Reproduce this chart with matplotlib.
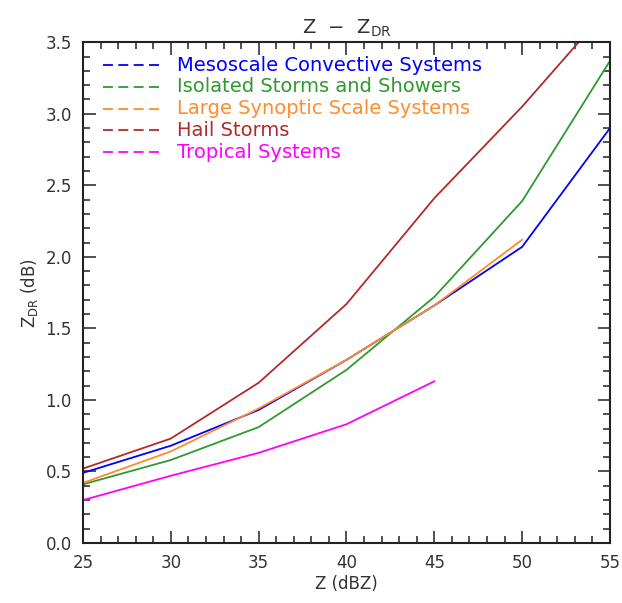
import matplotlib
matplotlib.use("Agg")
import matplotlib.pyplot as plt
from matplotlib.ticker import MultipleLocator
import numpy as np

z_dbz = [25, 30, 35, 40, 45, 50, 55]
mcs = [0.49, 0.68, 0.93, 1.28, 1.66, 2.07, 2.90]
isolated = [0.41, 0.58, 0.81, 1.21, 1.72, 2.39, 3.37]
synoptic_x = [25, 30, 35, 40, 45, 50]
synoptic = [0.42, 0.64, 0.94, 1.28, 1.66, 2.12]
hail = [0.52, 0.73, 1.12, 1.67, 2.41, 3.05, 3.75]
tropical_x = [25, 30, 35, 40, 45]
tropical = [0.30, 0.47, 0.63, 0.83, 1.13]

labels = ["Mesoscale Convective Systems", "Isolated Storms and Showers",
          "Large Synoptic Scale Systems", "Hail Storms", "Tropical Systems"]
colors = ["#0000ff", "#2e9a2e", "#ff8c2a", "#b22a2a", "#ff00ff"]

plt.rcParams['font.family'] = ['DejaVu Sans']
fig = plt.figure(figsize=(6.22, 6.03), dpi=100)
ax = fig.add_axes([0.1334, 0.0995, 0.8473, 0.8305])

series = [(z_dbz, mcs), (z_dbz, isolated), (synoptic_x, synoptic),
          (z_dbz, hail), (tropical_x, tropical)]
for (xs, ys), c in zip(series, colors):
    ax.plot(xs, ys, color=c, lw=1.3)

ax.set_xlim(25, 55)
ax.set_ylim(0, 3.5)
ax.xaxis.set_major_locator(MultipleLocator(5))
ax.xaxis.set_minor_locator(MultipleLocator(1))
ax.yaxis.set_major_locator(MultipleLocator(0.5))
ax.yaxis.set_minor_locator(MultipleLocator(0.1))
ax.yaxis.set_major_formatter(matplotlib.ticker.FormatStrFormatter('%.1f'))
ax.tick_params(which='both', direction='in', top=True, right=True, width=1.2,
               labelsize=12, colors='#333333', labelcolor='#333333')
ax.tick_params(which='major', length=9, pad=8)
ax.tick_params(which='minor', length=5)
for s in ax.spines.values():
    s.set_linewidth(1.5)
    s.set_color('#222222')

ax.set_xlabel("Z (dBZ)", fontsize=12, color='#333333', labelpad=2)
ax.set_ylabel(r"Z$_{\mathrm{DR}}$ (dB)", fontsize=12, color='#333333', labelpad=4)
ax.set_title(r"Z  $-$  Z$_{\mathrm{DR}}$", fontsize=14, color='#333333', pad=6)

# legend
for i, (lab, c) in enumerate(zip(labels, colors)):
    y = 3.34 - i * 0.152
    ax.plot([26.15, 29.6], [y, y], color=c, lw=1.3, ls=(0, (5.5, 3)))
    ax.text(30.35, y, lab, color=c, fontsize=14, va='center', ha='left')

fig.savefig("out.png", dpi=100)
